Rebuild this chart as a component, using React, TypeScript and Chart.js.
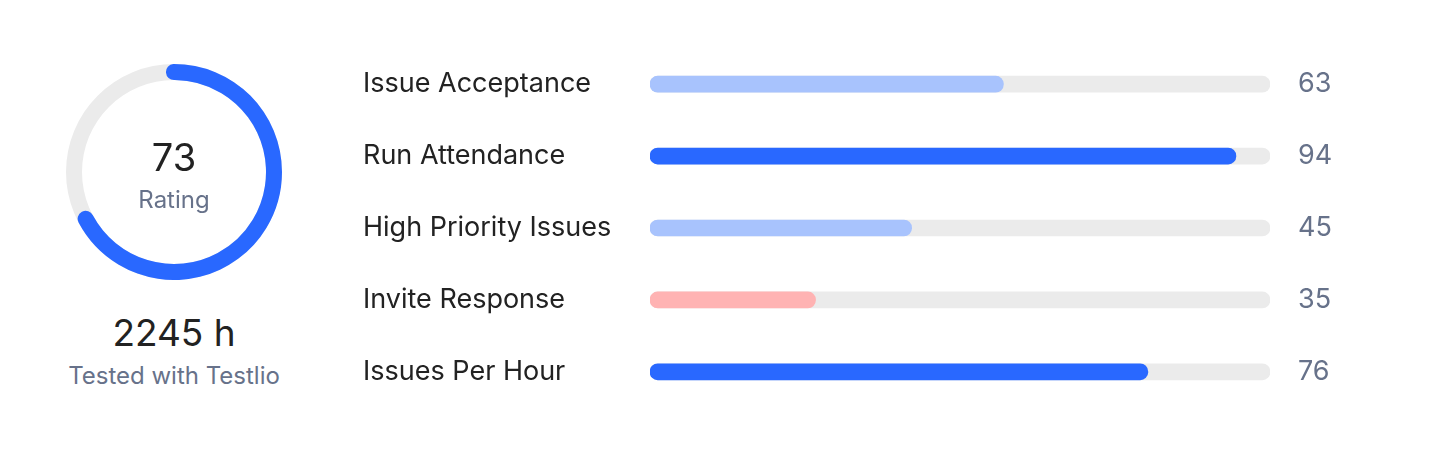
import React, { useEffect, useRef } from "react";
import { Chart, registerables } from "chart.js";

Chart.register(...registerables);

// ---- data ----
const categories = [
  "Issue Acceptance",
  "Run Attendance",
  "High Priority Issues",
  "Invite Response",
  "Issues Per Hour",
];
const scoreLabels = ["63", "94", "45", "35", "76"];
const barFill = [57, 94.5, 42.2, 26.7, 80.3];
const barColors = ["#a8c3fd", "#2968ff", "#a8c3fd", "#ffb3b3", "#2968ff"];
const trackMax = 100;

const ratingValue = "73";
const ratingLabel = "Rating";
const ratingArc = 69.8; // share of the ring drawn
const hoursValue = "2245 h";
const hoursLabel = "Tested with Testlio";

const FONT = "Inter, 'Noto Sans', sans-serif";
const TRACK = "#ebebeb";
const BLUE = "#2968ff";
const DARK = "#222222";
const MUTED = "#67728a";
const LABEL_SIZE = 27;

const ringTrackPlugin = {
  id: "ringTrack",
  beforeDatasetsDraw(chart: any) {
    const meta = chart.getDatasetMeta(0);
    const arc = meta.data[0];
    if (!arc) return;
    const { x, y, innerRadius, outerRadius } = arc.getProps(
      ["x", "y", "innerRadius", "outerRadius"],
      true
    );
    const ctx = chart.ctx;
    ctx.save();
    ctx.beginPath();
    ctx.arc(x, y, outerRadius, 0, Math.PI * 2);
    ctx.arc(x, y, innerRadius, 0, Math.PI * 2, true);
    ctx.closePath();
    ctx.fillStyle = TRACK;
    ctx.fill("evenodd");
    ctx.restore();
  },
};

function Ring() {
  const ref = useRef<HTMLCanvasElement>(null);
  useEffect(() => {
    const chart = new Chart(ref.current!, {
      type: "doughnut",
      data: {
        labels: ["rating", "rest"],
        datasets: [
          {
            data: [ratingArc, 100 - ratingArc],
            backgroundColor: [BLUE, "rgba(0,0,0,0)"],
            borderWidth: 0,
            borderRadius: [8, 0] as any,
          },
        ],
      },
      options: {
        animation: false,
        responsive: false,
        maintainAspectRatio: false,
        cutout: 92,
        rotation: -4.6,
        layout: { padding: 0 },
        plugins: { legend: { display: false }, tooltip: { enabled: false } },
        events: [],
      },
      plugins: [ringTrackPlugin],
    });
    return () => chart.destroy();
  }, []);
  return (
    <canvas
      ref={ref}
      width={216}
      height={216}
      style={{ position: "absolute", left: 66, top: 64, width: 216, height: 216 }}
    />
  );
}

function Bars() {
  const ref = useRef<HTMLCanvasElement>(null);
  useEffect(() => {
    const chart = new Chart(ref.current!, {
      type: "bar",
      data: {
        labels: categories,
        datasets: [
          {
            data: barFill,
            backgroundColor: barColors,
            borderRadius: 8,
            borderSkipped: false,
            barThickness: 16,
            grouped: false,
            yAxisID: "y",
          } as any,
          {
            data: categories.map(() => trackMax),
            backgroundColor: TRACK,
            borderRadius: 8,
            borderSkipped: false,
            barThickness: 16,
            grouped: false,
            yAxisID: "y",
          } as any,
        ],
      },
      options: {
        animation: false,
        responsive: false,
        maintainAspectRatio: false,
        indexAxis: "y",
        layout: { padding: 0 },
        events: [],
        plugins: { legend: { display: false }, tooltip: { enabled: false } },
        scales: {
          x: { display: false, min: 0, max: trackMax },
          y: {
            type: "category",
            position: "left",
            grid: { display: false, drawTicks: false },
            border: { display: false },
            ticks: {
              crossAlign: "far",
              padding: 0,
              color: DARK,
              font: { family: FONT, size: LABEL_SIZE },
            },
            afterFit: (s: any) => {
              s.width = 287;
            },
          },
          y2: {
            type: "category",
            position: "right",
            labels: scoreLabels,
            display: true,
            grid: { display: false, drawTicks: true, tickLength: 28 },
            border: { display: false },
            ticks: {
              crossAlign: "near",
              padding: 0,
              color: MUTED,
              font: { family: FONT, size: LABEL_SIZE },
            },
            afterFit: (s: any) => {
              s.width = 90;
            },
          },
        },
      } as any,
    });
    return () => chart.destroy();
  }, []);
  // the axes reserve half a label line above and below the plot area
  const pad = Math.round((LABEL_SIZE * 1.2) / 2);
  return (
    <canvas
      ref={ref}
      width={997}
      height={360 + 2 * pad}
      style={{
        position: "absolute",
        left: 363,
        top: 48 - pad,
        width: 997,
        height: 360 + 2 * pad,
      }}
    />
  );
}

function CText(props: { x: number; y: number; size: number; color: string; text: string }) {
  return (
    <div
      style={{
        position: "absolute",
        left: props.x,
        top: props.y,
        transform: "translate(-50%, -50%)",
        fontFamily: FONT,
        fontSize: props.size,
        lineHeight: 1,
        color: props.color,
        whiteSpace: "nowrap",
      }}
    >
      {props.text}
    </div>
  );
}

export default function App() {
  return (
    <div
      style={{
        position: "absolute",
        left: 0,
        top: 0,
        width: 1438,
        height: 456,
        background: "#ffffff",
        overflow: "hidden",
      }}
    >
      <Ring />
      <CText x={174} y={157} size={38} color={DARK} text={ratingValue} />
      <CText x={174} y={200} size={24} color={MUTED} text={ratingLabel} />
      <CText x={174} y={332} size={37} color={DARK} text={hoursValue} />
      <CText x={174} y={376} size={24} color={MUTED} text={hoursLabel} />
      <Bars />
    </div>
  );
}
